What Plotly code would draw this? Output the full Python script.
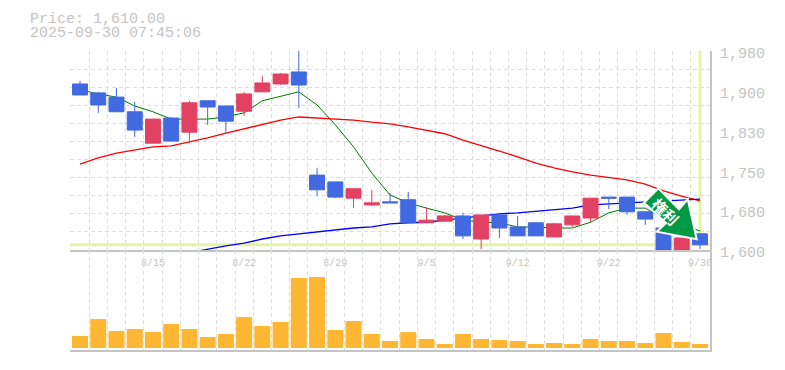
import plotly.graph_objects as go

open_ = [1917,1900,1892,1864,1804,1852,1825,1885,1875,1865,1902,1917,1940,1743,1730,1699,1686,1692,1696,1652,1655,1665,1621,1667,1644,1652,1625,1648,1661,1701,1701,1673,1642,1585,1631]
high_ = [1923,1902,1909,1883,1850,1854,1885,1885,1875,1902,1932,1938,1990,1757,1730,1717,1715,1709,1711,1682,1667,1671,1667,1667,1665,1652,1652,1665,1699,1701,1701,1673,1642,1623,1631]
low_ = [1896,1862,1864,1816,1804,1808,1804,1839,1822,1856,1902,1915,1871,1703,1699,1680,1684,1690,1652,1652,1655,1621,1602,1623,1627,1627,1625,1644,1653,1678,1667,1648,1585,1585,1602]
close_ = [1896,1877,1864,1829,1850,1808,1881,1873,1846,1898,1919,1936,1915,1715,1701,1717,1690,1690,1652,1657,1665,1627,1667,1642,1627,1627,1650,1665,1699,1699,1673,1659,1585,1623,1610]
ma_short = [1906,1898,1892,1875,1864,1850,1850,1850,1854,1862,1885,1894,1902,1877,1839,1797,1747,1705,1690,1680,1671,1657,1653,1652,1644,1644,1642,1642,1653,1671,1680,1680,1661,1650,1636]
ma_mid = [1764,1776,1785,1791,1797,1799,1806,1814,1823,1831,1839,1848,1854,1852,1850,1848,1844,1841,1835,1829,1822,1810,1800,1789,1778,1766,1757,1749,1743,1738,1734,1726,1713,1703,1694]
ma_long = [None,None,None,None,None,None,1595,1602,1608,1613,1621,1627,1631,1634,1638,1642,1644,1650,1652,1653,1657,1661,1665,1669,1671,1674,1678,1680,1686,1688,1690,1692,1694,1696,1697]
volume = [1200,2900,1700,1900,1600,2400,1900,1100,1400,3100,2200,2600,7000,7100,1800,2700,1400,700,1600,900,400,1400,900,800,700,400,500,400,900,700,700,500,1500,600,400]
date_idx = [4,9,14,19,24,29,34]
date_labels = ["8/15","8/22","8/29","9/5","9/12","9/22","9/30"]
price_ticks = [1600,1676,1752,1828,1904,1980]
price_labels = ["1,600","1,680","1,750","1,830","1,900","1,980"]
last_price = 1610
header = ["Price: 1,610.00","2025-09-30 07:45:06"]
arrow_label = "権利"

OFF = 8  # the page body margin
W,H = 785-OFF,370-OFF
L,R,T,B = 70-OFF,75,51-OFF,20
PW,PH = W-L-R, H-T-B
GREY = "#c4c4c4"
GRID = "#dedede"
FONT = "Liberation Mono"
px = lambda x: (x-OFF-L)/PW
py = lambda y: (H-B-(y-OFF))/PH
x = list(range(len(open_)))
xr = [-0.55,34.55]
yr = [1600,1980]

fig = go.Figure()
fig.add_trace(go.Scatter(x=x,y=ma_mid,mode="lines",line=dict(color="#ff0000",width=1.3),xaxis="x",yaxis="y"))
fig.add_trace(go.Scatter(x=x,y=ma_long,mode="lines",line=dict(color="#0000ff",width=1.3),xaxis="x",yaxis="y"))
fig.add_trace(go.Scatter(x=x,y=ma_short,mode="lines",line=dict(color="#007a00",width=1),xaxis="x",yaxis="y"))
fig.add_trace(go.Candlestick(x=x,open=open_,high=high_,low=low_,close=close_,xaxis="x",yaxis="y3",whiskerwidth=0,
    increasing=dict(line=dict(color="#e24162",width=1),fillcolor="#e24162"),
    decreasing=dict(line=dict(color="#4169e1",width=1),fillcolor="#4169e1")))
fig.add_trace(go.Bar(x=x,y=volume,marker=dict(color="#ffb733",line_width=0),xaxis="x2",yaxis="y2"))

minor_x = dict(showgrid=True,gridcolor=GRID,griddash="4px,3px",gridwidth=1,tick0=-0.5,dtick=1,ticklen=0)
arrow = [(658.3,188.3),(644,202.7),(666,223),(656.7,231.7),(696.7,239.3),(687.7,199),(679,209.3)]
path = "M "+" L ".join(f"{px(a):.4f},{py(b):.4f}" for a,b in arrow)+" Z"

fig.update_layout(
    width=W,height=H,autosize=False,margin=dict(l=L,r=R,t=T,b=B,pad=0,autoexpand=False),
    paper_bgcolor="white",plot_bgcolor="white",showlegend=False,boxmode="overlay",boxgap=0.18,boxgroupgap=0,bargap=0.12,
    font=dict(family=FONT,color=GREY),
    xaxis=dict(domain=[0,1],range=xr,anchor="y",rangeslider=dict(visible=False),showgrid=False,zeroline=False,automargin=False,
        tickmode="array",tickvals=date_idx,ticktext=date_labels,ticks="",tickfont=dict(size=10,family=FONT,color=GREY),
        ticklabelstandoff=2,showline=True,linecolor=GREY,linewidth=2,minor=minor_x),
    xaxis2=dict(domain=[0,1],range=xr,anchor="y2",matches="x",showgrid=False,zeroline=False,showticklabels=False,automargin=False,
        ticks="",showline=True,linecolor=GREY,linewidth=2,minor=minor_x),
    yaxis=dict(domain=[100/PH,1],range=yr,anchor="x",side="right",showgrid=False,zeroline=False,automargin=False,
        tickmode="array",tickvals=price_ticks,ticktext=price_labels,ticks="",ticklabelshift=2,ticklabelstandoff=5,
        tickfont=dict(size=15,family=FONT,color=GREY),showline=True,linecolor=GREY,linewidth=2,
        minor=dict(showgrid=True,gridcolor=GRID,griddash="4px,3px",gridwidth=1,tick0=1600,dtick=380/11,ticklen=0)),
    yaxis3=dict(domain=[100/PH,1],range=yr,anchor="x",overlaying="y",side="right",visible=False),
    yaxis2=dict(domain=[0,100/PH],range=[-200,9800],anchor="x2",side="right",showgrid=False,zeroline=False,automargin=False,
        showticklabels=False,ticks="",showline=True,linecolor=GREY,linewidth=2),
    shapes=[
        dict(type="line",xref="paper",x0=0,x1=1,yref="y",y0=last_price,y1=last_price,line=dict(color="#e2f5a4",width=3),layer="below"),
        dict(type="line",xref="x",x0=x[-1],x1=x[-1],yref="y",y0=last_price,y1=yr[1],line=dict(color="#e2f5a4",width=3),layer="below"),
        dict(type="path",xref="paper",yref="paper",path=path,fillcolor="#009944",line=dict(color="white",width=2),layer="above"),
    ],
    annotations=[
        dict(xref="paper",yref="paper",x=px(28),y=py(19),xanchor="left",yanchor="middle",showarrow=False,height=14,text=header[0],font=dict(size=15,family=FONT,color=GREY)),
        dict(xref="paper",yref="paper",x=px(28),y=py(33.5),xanchor="left",yanchor="middle",showarrow=False,height=14,text=header[1],font=dict(size=15,family=FONT,color=GREY)),
        dict(xref="paper",yref="paper",x=px(666),y=py(211),xanchor="center",yanchor="middle",showarrow=False,text=arrow_label,textangle=45,
             font=dict(size=15,family="Noto Sans CJK JP",color="white",weight="bold")),
    ],
)
fig.write_html("out.html")
